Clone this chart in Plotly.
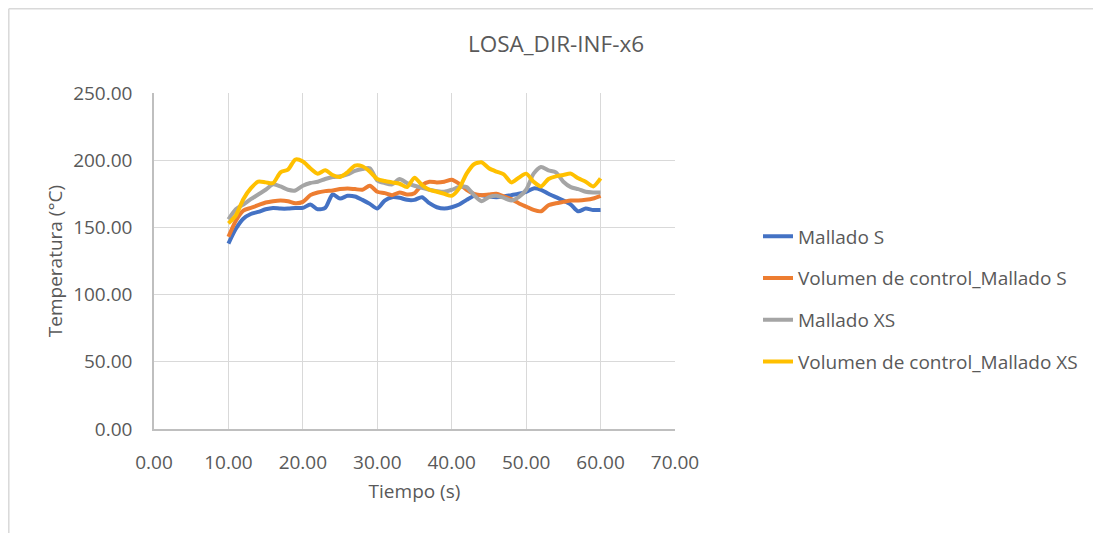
import plotly.graph_objects as go

tiempo = list(range(10, 61))

mallado_s = [138, 149, 156.5, 160, 161.5, 163.5, 164.5, 164, 164, 164.5,
             164.5, 167, 163.5, 164.5, 174.5, 171.5, 173.5, 173, 170.5, 167.5,
             164, 170, 172.5, 172, 170.5, 170.5, 172.5, 168, 165, 164,
             165, 167, 170.5, 173.5, 174, 173, 172.5, 173, 174, 175,
             176.5, 179, 178, 175, 172.5, 170, 167, 162, 164, 163, 163]

vc_mallado_s = [143, 155, 162.5, 164.5, 166.5, 168.5, 169.5, 170, 169.5, 168,
                169, 174, 176, 177, 177.5, 178.5, 179, 178.5, 178, 181,
                176.5, 175.5, 174, 176, 174.5, 175.5, 181.5, 184, 183.5, 184,
                185.5, 182.5, 178, 175, 174, 174.5, 175, 173, 171, 168,
                165.5, 163, 162, 166.5, 168, 169, 170, 170, 170.5, 171.5, 173.5]

mallado_xs = [156, 163.5, 167, 171, 174.5, 178, 182, 180.5, 178, 177.5,
              181, 183, 184, 186, 187.5, 188, 189.5, 192, 193.5, 194,
              185, 183, 182, 186, 183, 181, 179.5, 178, 177, 176.5,
              178, 180, 180, 174, 169.5, 172.5, 173.5, 172, 170, 172.5,
              178, 190, 195, 192.5, 191, 184, 180, 178.5, 176.5, 176, 176]

vc_mallado_xs = [153, 159, 171, 179, 184, 183.5, 183, 191, 193, 200.5,
                 199, 194, 190, 192.5, 189, 187.5, 191, 196, 195.5, 191.5,
                 186, 184.5, 183.5, 182.5, 180, 187, 181.5, 178, 176.5, 175,
                 173.5, 179, 190, 197, 198.5, 194, 191.5, 189.5, 183.5, 187,
                 190, 184, 180.5, 186, 188, 189, 190, 186.5, 184, 180.5, 186.5]

series_names = ["Mallado S", "Volumen de control_Mallado S",
                "Mallado XS", "Volumen de control_Mallado XS"]
series_values = [mallado_s, vc_mallado_s, mallado_xs, vc_mallado_xs]
colors = ["#4472C4", "#ED7D31", "#A5A5A5", "#FFC000"]

FONT = "Open Sans"
TXT = "#595959"

fig = go.Figure()
for i, (name, vals, col) in enumerate(zip(series_names, series_values, colors)):
    fig.add_trace(go.Scatter(
        x=tiempo, y=vals, name=name, mode="lines",
        line=dict(color=col, width=4, shape="spline", smoothing=0.7),
        legendgroup=f"g{i}",
    ))

# page body has an 8px margin: layout pixel = screen pixel - 8
OFF = 8
W, H = 1101 - OFF, 533 - OFF
ml, mr, mt, mb = 146, 426, 85, 104
pw, ph = W - ml - mr, H - mt - mb


def px(x):
    return (x - OFF - ml) / pw


def py(y):
    return (H - mb - (y - OFF)) / ph


fig.update_layout(
    width=W, height=H,
    margin=dict(l=ml, r=mr, t=mt, b=mb),
    paper_bgcolor="white", plot_bgcolor="white",
    font=dict(family=FONT, size=19, color=TXT),
    title=dict(text="LOSA_DIR-INF-x6", x=(556 - OFF) / W, xref="container",
               xanchor="center",
               y=1 - (44 - OFF) / H, yanchor="middle",
               font=dict(family=FONT, size=22.5, color=TXT)),
    xaxis=dict(range=[0, 70], dtick=10, tick0=0, tickformat=".2f",
               showgrid=True, gridcolor="#d9d9d9", gridwidth=1.3,
               showline=True, linecolor="#bfbfbf", linewidth=1.5,
               zeroline=False, ticks="", ticklabelstandoff=15,
               title=dict(text="Tiempo (s)", standoff=11,
                          font=dict(family=FONT, size=19, color=TXT)),
               tickfont=dict(family=FONT, size=19, color=TXT)),
    yaxis=dict(range=[0, 250], dtick=50, tick0=0, tickformat=".2f",
               showgrid=True, gridcolor="#d9d9d9", gridwidth=1.3,
               showline=True, linecolor="#bfbfbf", linewidth=1.5,
               zeroline=False, ticks="", ticklabelstandoff=16,
               title=dict(text="Temperatura (°C)", standoff=5,
                          font=dict(family=FONT, size=19, color=TXT)),
               tickfont=dict(family=FONT, size=19, color=TXT)),
    legend=dict(x=px(758), xanchor="left", y=py(299), yanchor="middle",
                traceorder="grouped", tracegroupgap=14,
                font=dict(family=FONT, size=19, color=TXT),
                bgcolor="rgba(0,0,0,0)"),
    showlegend=True,
    shapes=[
        dict(type="line", xref="paper", yref="paper",
             x0=px(8.8), x1=px(8.8), y0=py(8.8), y1=py(H + 20),
             line=dict(color="#d9d9d9", width=1.5)),
        dict(type="line", xref="paper", yref="paper",
             x0=px(8.8), x1=px(W + 20), y0=py(8.8), y1=py(8.8),
             line=dict(color="#d9d9d9", width=1.5)),
    ],
)

fig.write_html("out.html")
